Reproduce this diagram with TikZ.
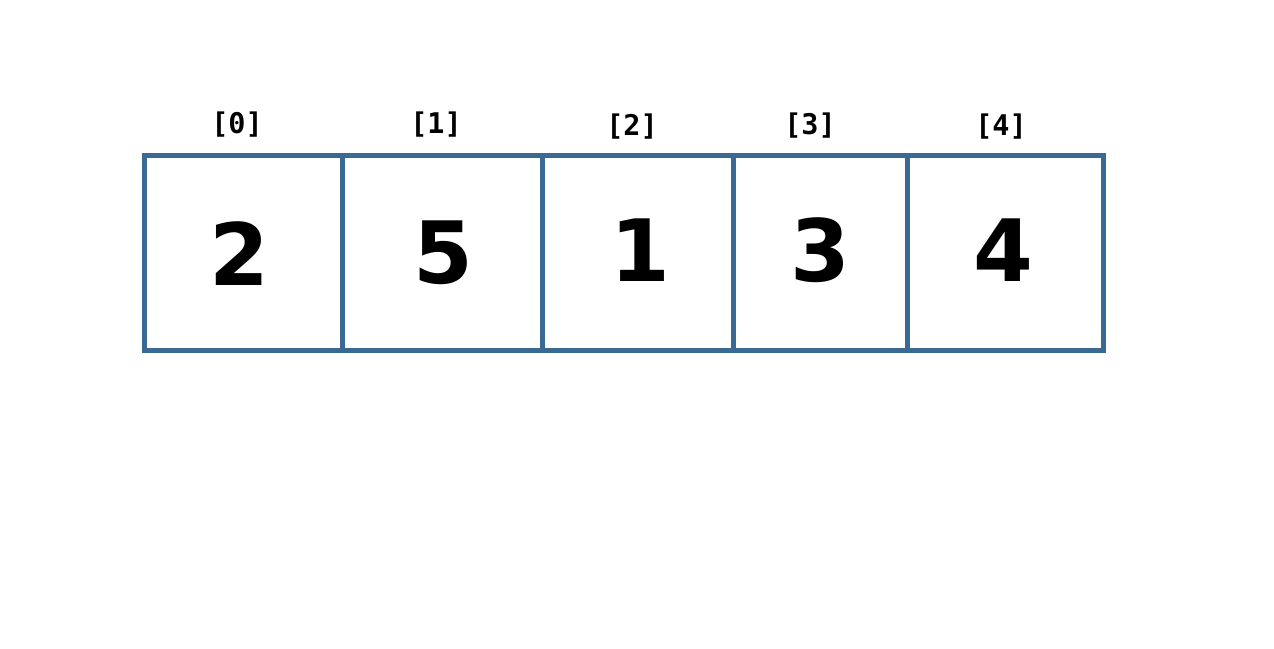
\documentclass[tikz,border=0pt]{standalone}
\usepackage{fontspec}
\setmainfont{DejaVu Sans}
\newfontfamily\monofont{DejaVu Sans Mono}
\definecolor{framec}{HTML}{3A6A94}
\begin{document}
\begin{tikzpicture}[x=1pt,y=-1pt,
  cell/.style={draw=framec, line width=5pt, inner sep=0pt, minimum height=195pt},
  digit/.style={font=\fontsize{86}{86}\selectfont\bfseries, inner sep=0pt, anchor=center},
  idx/.style={font=\monofont\bfseries\fontsize{28.5}{28.5}\selectfont, inner sep=0pt, anchor=center}]
\useasboundingbox[fill=white] (0,0) rectangle (1274,648);
\node[cell, minimum width=198pt] (c0) at (243,252.5) {};
\node[cell, minimum width=200pt] (c1) at (442,252.5) {};
\node[cell, minimum width=191pt] (c2) at (637.5,252.5) {};
\node[cell, minimum width=174pt] (c3) at (820,252.5) {};
\node[cell, minimum width=196pt] (c4) at (1005,252.5) {};
\node[digit] (d0) at (239,254) {2};
\node[digit] (d1) at (443,253) {5};
\node[digit] (d2) at (640,250) {1};
\node[digit] (d3) at (820,250) {3};
\node[digit] (d4) at (1003,250) {4};
\node[idx] (i0) at (237,125) {[0]};
\node[idx] (i1) at (436,125) {[1]};
\node[idx] (i2) at (632,127) {[2]};
\node[idx] (i3) at (810,126) {[3]};
\node[idx] (i4) at (1001,127) {[4]};
\end{tikzpicture}
\end{document}
